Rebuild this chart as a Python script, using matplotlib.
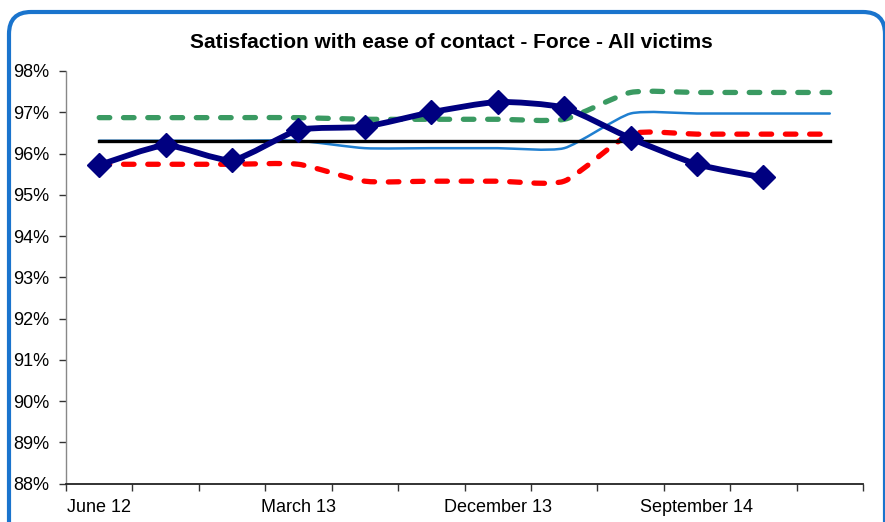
import matplotlib.pyplot as plt
import numpy as np
from matplotlib.path import Path
from matplotlib.patches import PathPatch, FancyBboxPatch
from matplotlib.transforms import IdentityTransform

plt.rcParams['font.family'] = ['Liberation Sans', 'DejaVu Sans']

# quarters
quarters = ['June 12', 'September 12', 'December 12', 'March 13', 'June 13',
            'September 13', 'December 13', 'March 14', 'June 14',
            'September 14', 'December 14', 'March 15']
shown_labels = ['June 12', 'March 13', 'December 13', 'September 14']

force = [95.72, 96.20, 95.84, 96.57, 96.65, 97.00, 97.25, 97.11, 96.37, 95.74, 95.42]
average = [96.31] * 12
upper = [96.87, 96.87, 96.87, 96.87, 96.83, 96.83, 96.83, 96.83, 97.48, 97.48, 97.48, 97.48]
middle = [96.31, 96.31, 96.31, 96.31, 96.13, 96.13, 96.13, 96.13, 96.97, 96.97, 96.97, 96.97]
lower = [95.74, 95.74, 95.74, 95.74, 95.33, 95.33, 95.33, 95.33, 96.47, 96.47, 96.47, 96.47]


def smooth_path(xs, ys, k=10.0):
    # smoothed line -> cubic bezier through the points
    pts = np.column_stack([xs, ys]).astype(float)
    verts = [pts[0]]
    codes = [Path.MOVETO]
    n = len(pts)
    for i in range(n - 1):
        p0 = pts[i - 1] if i > 0 else pts[i]
        p1 = pts[i]
        p2 = pts[i + 1]
        p3 = pts[i + 2] if i + 2 < n else pts[i + 1]
        c1 = p1 + (p2 - p0) / k
        c2 = p2 - (p3 - p1) / k
        verts += [c1, c2, p2]
        codes += [Path.CURVE4] * 3
    return Path(verts, codes)


fig = plt.figure(figsize=(8.85, 5.22), dpi=100)
ax = fig.add_axes([66 / 885, 1 - 483.7 / 522, 797 / 885, (483.7 - 71) / 522])

x = np.arange(len(quarters))

def add_smooth(vals, color, lw, dashes=None, z=2):
    p = PathPatch(smooth_path(x[:len(vals)], vals), fill=False, edgecolor=color,
                  linewidth=lw, zorder=z, capstyle='round', joinstyle='round')
    if dashes is not None:
        p.set_linestyle((0, dashes))
    ax.add_patch(p)

add_smooth(upper, '#3a9a62', 3.8, dashes=(2.0, 2.6))
add_smooth(lower, '#ff0000', 3.8, dashes=(2.0, 2.6))
add_smooth(middle, '#1f7fd0', 1.8)
ax.plot(x, average, color='black', linewidth=2.4, zorder=3)
add_smooth(force, '#000080', 4.2, z=4)
ax.plot(x[:len(force)], force, linestyle='none', marker='D', markersize=12,
        color='#000080', zorder=5)

ax.set_xlim(-0.5, 11.5)
ax.set_ylim(88, 98)
ax.set_yticks(np.arange(88, 99, 1))
ax.set_yticklabels(['%d%%' % v for v in range(88, 99)])
ax.set_xticks(np.arange(-0.5, 12, 1))
ax.set_xticklabels([])
ax.set_xticks([quarters.index(q) for q in shown_labels], minor=True)
ax.set_xticklabels(shown_labels, minor=True)
ax.tick_params(axis='x', which='major', length=5, width=1, direction='out', color='#333333')
ax.tick_params(axis='x', which='minor', length=0, pad=11, labelsize=13)
ax.tick_params(axis='y', length=5, width=1, direction='out', pad=7, labelsize=13, color='#333333')

for s in ['top', 'right']:
    ax.spines[s].set_visible(False)
ax.spines['left'].set_color('#888888')
ax.spines['left'].set_linestyle((0, (1, 1)))
ax.spines['left'].set_linewidth(1)
ax.spines['bottom'].set_color('#222222')
ax.spines['bottom'].set_linewidth(1.3)

fig.text(451 / 885, 1 - 43 / 522, 'Satisfaction with ease of contact - Force - All victims',
         ha='center', va='center', fontsize=15, fontweight='bold')

border = FancyBboxPatch((9, -30), 876, 540, boxstyle='round,pad=0,rounding_size=22',
                        transform=IdentityTransform(), fill=False, edgecolor='#1a74cd',
                        linewidth=3, zorder=10)
fig.patches.append(border)

fig.savefig('out.png', dpi=100)
